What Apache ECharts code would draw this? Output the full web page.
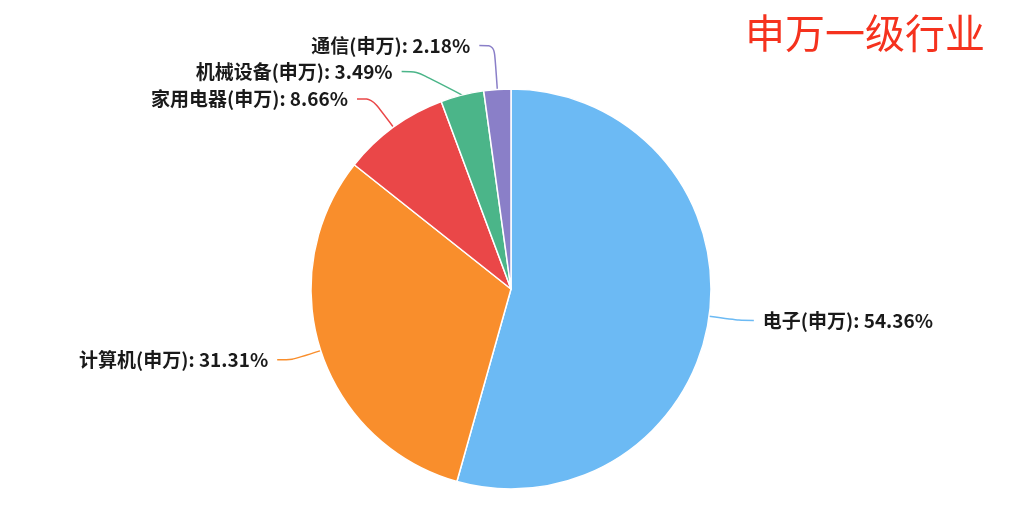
<!DOCTYPE html>
<html><head><meta charset="utf-8">
<script src="https://cdn.jsdelivr.net/npm/echarts@6/dist/echarts.min.js"></script>
<style>html,body{margin:0;padding:0;background:#fff}#c{width:1009px;height:523px}</style>
</head><body><div id="c"></div>
<script>
const categories = ['电子(申万)', '计算机(申万)', '家用电器(申万)', '机械设备(申万)', '通信(申万)'];
const values = [54.36, 31.31, 8.66, 3.49, 2.18];
const colors = ['#6cbaf4', '#f98e2c', '#ea4748', '#4bb589', '#8a7fc8'];
const lineLengths = [30, 30, 35, 25, 44];
const titleText = '申万一级行业';

const chart = echarts.init(document.getElementById('c'));
chart.setOption({
  animation: false,
  color: colors,
  title: {
    text: titleText, right: 19, top: 8,
    textStyle: {color: '#f5321e', fontSize: 40, fontWeight: 'normal', fontFamily: 'Noto Sans CJK SC'}
  },
  series: [{
    type: 'pie',
    center: [511, 289],
    radius: 200,
    startAngle: 90,
    data: categories.map((n, i) => ({name: n, value: values[i], labelLine: {length: lineLengths[i]}})),
    itemStyle: {borderColor: '#fff', borderWidth: 1.5},
    label: {
      formatter: p => p.name + ': ' + p.value.toFixed(2) + '%',
      color: '#1a1a1a', fontSize: 19, fontWeight: 'bold', lineHeight: 24,
      fontFamily: 'Noto Sans CJK SC',
      textBorderColor: '#fff', textBorderWidth: 2,
      distanceToLabelLine: 9
    },
    labelLine: {length: 30, length2: 15, smooth: true, lineStyle: {width: 1.5}}
  }]
});
</script></body></html>
